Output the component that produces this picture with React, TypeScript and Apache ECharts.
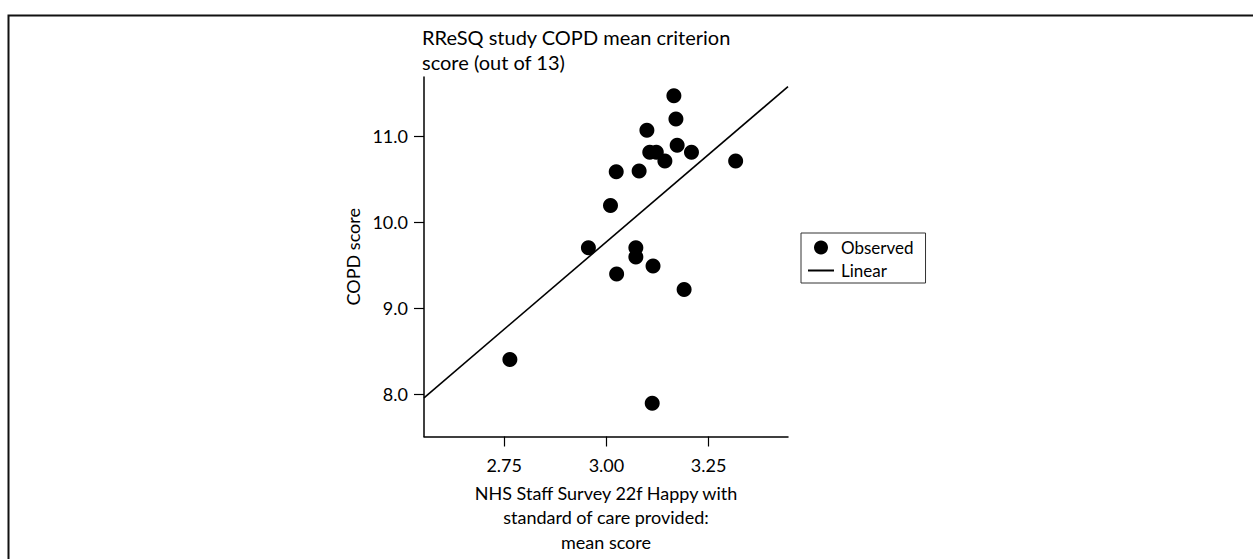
import React, { useEffect, useRef } from "react";
import * as echarts from "echarts";

const staffScores = [
  3.165, 3.170, 3.099, 3.106, 3.122, 3.173, 3.208, 3.143, 3.316, 3.024,
  3.080, 3.010, 2.956, 3.072, 3.072, 3.114, 3.025, 3.190, 2.764, 3.112,
];
const copdScores = [
  11.47, 11.20, 11.07, 10.815, 10.815, 10.896, 10.815, 10.712, 10.712, 10.589,
  10.596, 10.197, 9.705, 9.705, 9.597, 9.494, 9.401, 9.22, 8.407, 7.897,
];
const fitX = [2.554, 3.444];
const fitY = [7.962, 11.577];
const xTicks = [2.75, 3.0, 3.25];
const yTicks = [8, 9, 10, 11];

const titleText = "RReSQ study COPD mean criterion\nscore (out of 13)";
const xName = "NHS Staff Survey 22f Happy with\nstandard of care provided:\nmean score";
const yName = "COPD score";

const FONT = "Lato, 'Open Sans', sans-serif";

export default function App() {
  const ref = useRef<HTMLDivElement>(null);
  useEffect(() => {
    if (!ref.current) return;
    const chart = echarts.init(ref.current, null, { renderer: "svg" });
    const observed = staffScores.map((x, i) => [x, copdScores[i]]);
    const linear = fitX.map((x, i) => [x, fitY[i]]);
    chart.setOption({
      animation: false,
      backgroundColor: "#fff",
      textStyle: { fontFamily: FONT, color: "#000" },
      title: {
        text: titleText,
        left: 422,
        top: 24,
        padding: 0,
        textStyle: { fontFamily: FONT, fontSize: 20, fontWeight: "normal", lineHeight: 25, color: "#000" },
      },
      graphic: [
        {
          type: "rect",
          shape: { x: 8.5, y: 15.5, width: 1300, height: 700 },
          style: { fill: "none", stroke: "#111", lineWidth: 2 },
          silent: true,
        },
      ],
      legend: {
        orient: "vertical",
        left: 801,
        top: 233,
        itemWidth: 26,
        itemHeight: 14,
        itemGap: 6,
        padding: [6, 12, 4, 6],
        borderColor: "#333",
        borderWidth: 1,
        textStyle: { fontFamily: FONT, fontSize: 17, color: "#000", padding: [0, 0, 0, 2] },
        data: [
          { name: "Observed", icon: "circle" },
          { name: "Linear", itemStyle: { color: "rgba(0,0,0,0)", borderWidth: 0, opacity: 0 } },
        ],
      },
      grid: { left: 424, top: 77, right: 1253 - 788, bottom: 559 - 439, containLabel: false },
      xAxis: {
        type: "value",
        min: 2.554,
        max: 3.444,
        name: xName,
        nameLocation: "middle",
        nameGap: 44,
        nameTextStyle: { fontFamily: FONT, fontSize: 18, lineHeight: 24.5, color: "#000", align: "center", verticalAlign: "top" },
        axisLine: { show: true, onZero: false, lineStyle: { color: "#000", width: 1.5 } },
        axisTick: { show: true, length: 10, customValues: xTicks, lineStyle: { color: "#000", width: 1.2 } },
        axisLabel: {
          customValues: xTicks,
          margin: 19,
          fontFamily: FONT,
          fontSize: 18,
          color: "#000",
          formatter: (v: number) => v.toFixed(2),
        },
        splitLine: { show: false },
      },
      yAxis: {
        type: "value",
        min: 7.512,
        max: 11.689,
        name: yName,
        nameLocation: "middle",
        nameGap: 62,
        nameRotate: 90,
        nameMoveOverlap: false,
        nameTextStyle: { fontFamily: FONT, fontSize: 18, color: "#000" },
        axisLine: { show: true, onZero: false, lineStyle: { color: "#000", width: 1.5 } },
        axisTick: { show: true, length: 10, customValues: yTicks, lineStyle: { color: "#000", width: 1.2 } },
        axisLabel: {
          customValues: yTicks,
          margin: 16,
          fontFamily: FONT,
          fontSize: 18,
          color: "#000",
          formatter: (v: number) => v.toFixed(1),
        },
        splitLine: { show: false },
      },
      series: [
        {
          name: "Observed",
          type: "scatter",
          data: observed,
          symbol: "circle",
          symbolSize: 15,
          itemStyle: { color: "#000", opacity: 1 },
          z: 3,
        },
        {
          name: "Linear",
          type: "line",
          data: linear,
          symbol: "none",
          showSymbol: false,
          lineStyle: { color: "#000", width: 1.6 },
          itemStyle: { color: "#000" },
          z: 2,
        },
      ],
    });
    return () => chart.dispose();
  }, []);
  return (
    <div
      ref={ref}
      style={{ position: "fixed", left: 0, top: 0, width: 1253, height: 559 }}
    />
  );
}
